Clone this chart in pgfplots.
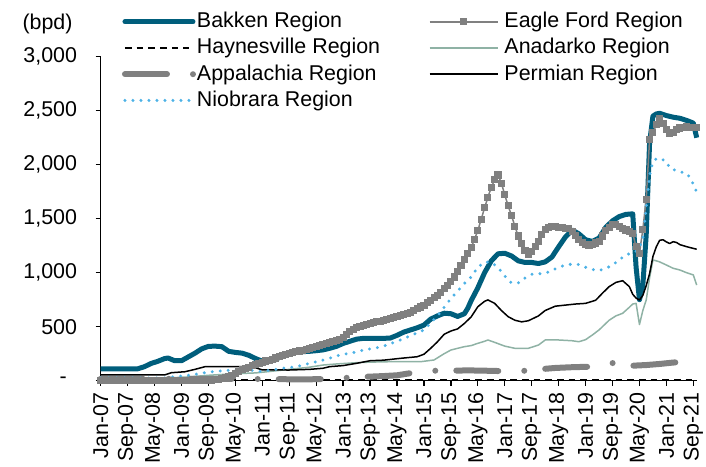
\documentclass[border=0pt]{standalone}
\usepackage{pgfplots}
\pgfplotsset{compat=1.18}
\usepackage{fontspec}
\setmainfont{Liberation Sans}
\definecolor{bakken}{RGB}{0,94,124}
\definecolor{efgray}{RGB}{128,128,128}
\definecolor{anadarko}{RGB}{143,178,165}
\definecolor{niobrara}{RGB}{77,178,230}
\newcommand{\chartfont}{\fontsize{21.4}{25}\selectfont}
\pgfplotsset{
  leground/.style={legend image code/.code={\draw[##1, line cap=round] (0pt,0pt) -- (68pt,0pt);}},
  legline/.style={legend image code/.code={\draw[##1] (0pt,0pt) -- (68pt,0pt);}},
  legshort/.style={legend image code/.code={\draw[##1] (0pt,0pt) -- (64pt,0pt);}},
  legmark/.style={legend image code/.code={\draw[##1, mark repeat=2, mark phase=2] plot coordinates {(0pt,0pt)(34pt,0pt)(68pt,0pt)};}},
}
\begin{document}
\begin{tikzpicture}
\begin{axis}[
  at={(0pt,0pt)}, anchor=south west,
  scale only axis, width=596pt, height=324pt,
  xmin=0, xmax=177, ymin=0, ymax=3000,
  clip=false,
  axis lines=left,
  axis line style={-, line width=1.3pt, black},
  tick style={black, line width=1.3pt},
  tick align=outside,
  major tick length=5pt,
  tick label style={font=\chartfont},
  xtick={0,8,...,176},
  xticklabels={Jan-07,Sep-07,May-08,Jan-09,Sep-09,May-10,Jan-11,Sep-11,May-12,Jan-13,Sep-13,May-14,Jan-15,Sep-15,May-16,Jan-17,Sep-17,May-18,Jan-19,Sep-19,May-20,Jan-21,Sep-21},
  xticklabel style={rotate=90, anchor=east, inner sep=0pt, xshift=-6.7pt},
  ytick={0,500,1000,1500,2000,2500,3000},
  yticklabels={{\makebox[17.4pt][l]{-}},500,{1,000},{1,500},{2,000},{2,500},{3,000}},
  yticklabel style={anchor=east, inner sep=0pt, xshift=-18.5pt},
  legend columns=2,
  legend cell align=left,
  legend style={draw=none, fill=none, inner sep=0pt, outer sep=0pt,
    column sep=1pt, row sep=6pt,
    nodes={inner sep=0pt, text height=16pt, text depth=4.2pt},
    font=\chartfont,
    at={(axis description cs:0.0357,1.1389)}, anchor=north west},
]
% Bakken
\addplot[bakken, line width=5pt, line join=round, leground]
coordinates {(0,110)(11,110)(13,130)(15,160)(17,180)(19,205)(20,210)(22,185)(24,185)(26,220)(28,255)(30,295)(32,318)(34,320)(36,315)(38,272)(40,262)(42,255)(44,235)(46,205)(48,180)(50,178)(52,195)(54,235)(56,253)(58,262)(60,269)(62,272)(64,278)(66,285)(68,300)(70,318)(72,345)(74,365)(76,385)(78,392)(80,392)(82,392)(84,392)(86,395)(88,420)(90,450)(92,470)(94,490)(96,515)(98,570)(100,600)(102,625)(104,620)(106,595)(108,620)(109,670)(110,740)(112,860)(114,1000)(116,1110)(118,1175)(120,1180)(122,1155)(124,1110)(126,1095)(128,1095)(130,1085)(132,1100)(134,1145)(136,1240)(138,1330)(140,1395)(142,1360)(144,1305)(146,1290)(148,1320)(150,1420)(152,1480)(154,1520)(156,1540)(158,1545)(159,1050)(160,750)(161,880)(162,1350)(163,2200)(164,2450)(165,2470)(166,2476)(168,2455)(170,2440)(172,2430)(174,2410)(176,2385)(177,2250)};
\addlegendentry{\makebox[231pt][l]{Bakken Region}}
% Eagle Ford
\addplot[efgray, line width=1.5pt, mark=square*, mark size=2.8pt, mark options={solid}, legmark]
table[x=m, y=v] {
m v
0 5
1 5
2 5
3 5
4 5
5 5
6 5
7 5
8 5
9 5
10 5
11 5
12 5
13 5
14 5
15 5
16 5
17 5
18 5
19 5
20 5
21 5
22 5
23 5
24 5
25 5
26 5
27 5
28 5
29 5
30 5
31 5
32 5
33 5
34 8
35 12
36 18
37 26
38 36
39 50
40 65
41 85
42 100
43 112
44 125
45 138
46 150
47 162
48 172
49 182
50 190
51 200
52 210
53 222
54 235
55 246
56 255
57 262
58 268
59 275
60 282
61 290
62 298
63 306
64 315
65 325
66 335
67 342
68 350
69 360
70 372
71 385
72 400
73 430
74 455
75 475
76 490
77 502
78 512
79 521
80 530
81 538
82 545
83 552
84 560
85 569
86 578
87 588
88 598
89 607
90 615
91 622
92 630
93 648
94 665
95 682
96 700
97 722
98 745
99 768
100 790
101 820
102 850
103 882
104 915
105 960
106 1010
107 1065
108 1120
109 1175
110 1230
111 1310
112 1390
113 1495
114 1600
115 1700
116 1790
117 1860
118 1905
119 1830
120 1720
121 1620
122 1530
123 1430
124 1340
125 1270
126 1205
127 1165
128 1195
129 1240
130 1290
131 1350
132 1400
133 1420
134 1430
135 1425
136 1420
137 1415
138 1410
139 1408
140 1385
141 1345
142 1305
143 1280
144 1262
145 1255
146 1262
147 1275
148 1290
149 1340
150 1390
151 1415
152 1450
153 1445
154 1425
155 1410
156 1395
157 1380
158 1362
159 1240
160 1180
161 1400
162 1680
163 2230
164 2295
165 2370
166 2430
167 2380
168 2322
169 2292
170 2300
171 2330
172 2340
173 2348
174 2350
175 2348
176 2346
177 2345
};
\addlegendentry{\hspace*{5pt}Eagle Ford Region}
% Haynesville
\addplot[black, line width=1.5pt, dash pattern=on 6.7pt off 5pt, legshort]
coordinates {(0,10)(60,10)(120,10)(177,10)};
\addlegendentry{Haynesville Region}
% Anadarko
\addplot[anadarko, line width=1.5pt, line join=round, legline]
coordinates {(0,20)(20,25)(26,35)(32,50)(40,65)(46,72)(50,85)(56,105)(62,125)(66,145)(70,155)(76,167)(80,172)(86,176)(95,176)(99,192)(102,250)(104,284)(106,300)(108,315)(110,325)(112,346)(114,365)(115,377)(117,355)(120,320)(123,300)(127,300)(130,330)(132,377)(136,377)(140,370)(142,361)(144,380)(146,423)(148,470)(151,560)(153,600)(155,624)(157,680)(158,710)(159,716)(160,520)(161,650)(162,747)(163,950)(164,1118)(165,1110)(166,1100)(168,1071)(170,1041)(172,1025)(174,1000)(176,979)(177,886)};
\addlegendentry{\hspace*{5pt}Anadarko Region}
% Appalachia
\addplot[efgray, line width=6pt, line cap=round, dash pattern=on 42pt off 26pt on 0pt off 21pt, legline]
coordinates {(0,18)(30,18)(50,15)(60,12)(66,15)(72,25)(78,35)(84,43)(88,50)(92,70)(97,90)(100,93)(110,95)(115,92)(120,88)(126,92)(130,105)(135,118)(140,125)(146,130)(149,150)(151,167)(153,160)(156,142)(158,139)(162,145)(166,155)(170,168)(174,176)(177,180)};
\addlegendentry{Appalachia Region}
% Permian
\addplot[black, line width=1.5pt, line join=round, legline]
coordinates {(0,53)(19,53)(21,74)(25,83)(28,105)(31,130)(45,130)(48,100)(56,99)(62,105)(66,115)(68,130)(72,140)(76,161)(80,185)(84,190)(89,207)(94,222)(96,245)(98,300)(100,360)(102,430)(104,460)(106,480)(108,530)(110,590)(112,685)(114,735)(115,748)(117,716)(119,650)(121,593)(123,560)(125,545)(127,555)(130,600)(132,650)(135,690)(138,700)(141,710)(144,716)(147,745)(149,810)(151,871)(153,910)(155,926)(157,871)(158,800)(159,765)(160,747)(161,790)(162,880)(163,990)(164,1150)(165,1240)(166,1300)(167,1305)(168,1285)(169,1270)(170,1287)(171,1280)(172,1260)(174,1241)(176,1225)(177,1217)};
\addlegendentry{\hspace*{5pt}Permian Region}
% Niobrara
\addplot[niobrara, line width=3.3pt, line cap=round, dash pattern=on 0pt off 8pt, legshort]
coordinates {(0,25)(19,25)(22,37)(27,53)(30,70)(33,83)(36,92)(40,100)(44,100)(47,85)(50,95)(54,115)(58,130)(62,160)(67,198)(71,238)(75,260)(78,284)(82,305)(85,330)(89,377)(93,430)(96,470)(100,600)(104,760)(108,900)(110,960)(112,1050)(114,1100)(116,1095)(118,1050)(120,970)(122,905)(124,905)(126,950)(128,985)(130,990)(132,995)(134,1020)(136,1050)(138,1070)(140,1080)(142,1075)(144,1050)(146,1030)(148,1020)(150,1040)(152,1070)(154,1120)(156,1165)(158,1185)(159,1200)(160,1230)(161,1320)(162,1600)(163,1900)(164,2030)(165,2055)(166,2060)(167,2045)(168,2030)(169,1970)(170,1955)(172,1935)(174,1920)(175,1880)(176,1820)(177,1745)};
\addlegendentry{Niobrara Region}
\end{axis}
\node[font=\chartfont, anchor=center] at (-53.2pt,356.7pt) {(bpd)};
\pgfresetboundingbox
\path[use as bounding box] (-100.7pt,-85.3pt) rectangle (605.3pt,380.7pt);
\end{tikzpicture}
\end{document}
